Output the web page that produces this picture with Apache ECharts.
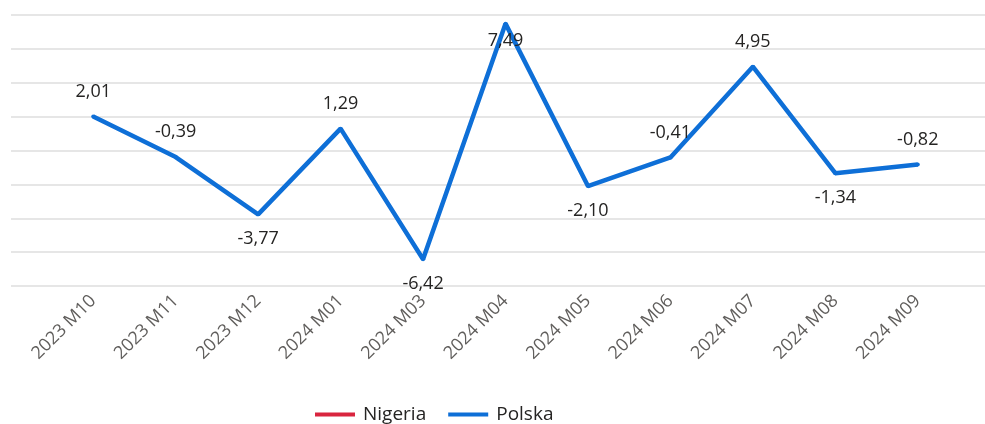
<!DOCTYPE html>
<html>
<head>
<meta charset="utf-8">
<script src="https://cdn.jsdelivr.net/npm/echarts@6/dist/echarts.min.js"></script>
<style>
  html, body { margin: 0; padding: 0; background: #fff; }
  #chart { width: 985px; height: 424px; }
</style>
</head>
<body>
<div id="chart"></div>
<script>
const categories = ['2023 M10', '2023 M11', '2023 M12', '2024 M01', '2024 M03', '2024 M04',
  '2024 M05', '2024 M06', '2024 M07', '2024 M08', '2024 M09']
const polska = [2.01, -0.39, -3.77, 1.29, -6.42, 7.49, -2.10, -0.41, 4.95, -1.34, -0.82]
const nigeria = [null, null, null, null, null, null, null, null, null, null, null]
const yTicks = { min: -8, max: 8, interval: 2 }

const fontFamily = "'Segoe UI', 'Open Sans', sans-serif"
const blue = '#0e6fd7'
const red = '#d9253f'

// label goes under the point at local minima (and when it would run off the top)
function labelFor (i) {
  const v = polska[i]
  const prev = i > 0 ? polska[i - 1] : -Infinity
  const next = i < polska.length - 1 ? polska[i + 1] : -Infinity
  if (v > yTicks.max - 1) return { position: 'bottom', distance: 6 }
  if (v < prev && v < next) return { position: 'bottom', distance: 14 }
  return { position: 'top', distance: 14 }
}

const chart = echarts.init(document.getElementById('chart'))
chart.setOption({
  backgroundColor: '#fff',
  animation: false,
  grid: [
    { left: 52, right: 26, top: 15, bottom: 138 },
    { left: 11, right: 0, top: 15, bottom: 138 } // only for the gridlines
  ],
  legend: {
    data: ['Nigeria', 'Polska'],
    left: 310,
    top: 400,
    icon: 'rect',
    itemWidth: 40,
    itemHeight: 4,
    itemGap: 22,
    textStyle: { fontFamily: fontFamily, fontSize: 19, color: '#252423', padding: [0, 0, 0, 3] }
  },
  xAxis: [
    {
      type: 'category',
      gridIndex: 0,
      data: categories,
      boundaryGap: true,
      axisLine: { show: false },
      axisTick: { show: false },
      axisLabel: {
        rotate: 45,
        margin: 12,
        interval: 0,
        color: '#605e5c',
        fontSize: 18,
        fontFamily: fontFamily
      }
    },
    { type: 'value', gridIndex: 1, show: false, min: 0, max: 1 }
  ],
  yAxis: [
    {
      type: 'value',
      gridIndex: 0,
      min: yTicks.min,
      max: yTicks.max,
      interval: yTicks.interval,
      show: false
    },
    {
      type: 'value',
      gridIndex: 1,
      min: yTicks.min,
      max: yTicks.max,
      interval: yTicks.interval,
      axisLine: { show: false },
      axisTick: { show: false },
      axisLabel: { show: false },
      splitLine: { show: true, lineStyle: { color: '#dedede', width: 1.5 } }
    }
  ],
  series: [
    {
      name: 'Nigeria',
      type: 'line',
      xAxisIndex: 0,
      yAxisIndex: 0,
      data: nigeria,
      showSymbol: false,
      itemStyle: { color: red },
      lineStyle: { width: 4.5, color: red }
    },
    {
      name: 'Polska',
      type: 'line',
      xAxisIndex: 0,
      yAxisIndex: 0,
      data: polska.map((v, i) => ({ value: v, label: labelFor(i) })),
      symbol: 'circle',
      symbolSize: 4,
      showSymbol: true,
      itemStyle: { color: blue },
      lineStyle: { width: 4.5, color: blue },
      label: {
        show: true,
        color: '#252423',
        fontSize: 18,
        fontFamily: fontFamily,
        formatter: (p) => p.value.toFixed(2).replace('.', ',')
      }
    }
  ]
})
</script>
</body>
</html>
